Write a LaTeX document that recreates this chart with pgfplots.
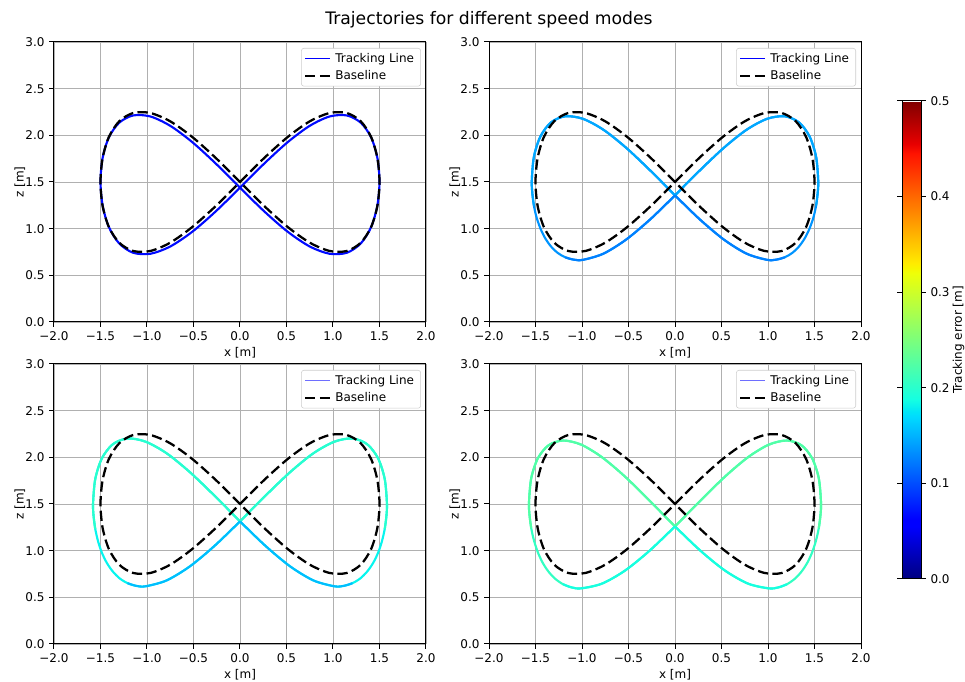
\documentclass[border=0pt]{standalone}
\usepackage{fontspec}
\setmainfont{DejaVu Sans}
\usepackage{pgfplots}
\pgfplotsset{compat=1.18}
\definecolor{gridgray}{HTML}{B0B0B0}
\definecolor{legframe}{HTML}{CCCCCC}
\definecolor{pOne}{RGB}{0,10,255}
\definecolor{pTwoA}{RGB}{0,168,255}
\definecolor{pTwoB}{RGB}{0,148,255}
\definecolor{pTwoC}{RGB}{0,128,255}
\definecolor{pThrA}{RGB}{41,255,206}
\definecolor{pThrB}{RGB}{8,245,238}
\definecolor{pThrC}{RGB}{0,189,255}
\definecolor{pFouA}{RGB}{82,255,165}
\definecolor{pFouB}{RGB}{50,255,195}
\definecolor{pFouC}{RGB}{22,255,225}
\definecolor{legblueL}{RGB}{110,110,255}
\newcommand{\fs}{\fontsize{9}{11}\selectfont}
\pgfplotsset{
 colormap={mpljet}{rgb(0pt)=(0,0,0.5); rgb(11pt)=(0,0,1); rgb(12.5pt)=(0,0,1); rgb(34pt)=(0,0.86,1); rgb(35pt)=(0,0.9,0.968); rgb(37.5pt)=(0.081,1,0.887); rgb(64pt)=(0.935,1,0.032); rgb(65pt)=(0.968,0.963,0); rgb(66pt)=(1,0.926,0); rgb(89pt)=(1,0.074,0); rgb(91pt)=(0.909,0,0); rgb(100pt)=(0.5,0,0)},
 traj/.style={
   scale only axis, width=279pt, height=210pt, anchor=south west,
   xmin=-2,xmax=2,ymin=0,ymax=3,
   xtick={-2,-1.5,-1,-0.5,0,0.5,1,1.5,2},
   xticklabels={−2.0,−1.5,−1.0,−0.5,0.0,0.5,1.0,1.5,2.0},
   ytick={0,0.5,1,1.5,2,2.5,3},
   yticklabels={0.0,0.5,1.0,1.5,2.0,2.5,3.0},
   grid=major, grid style={gridgray, line width=0.7pt},
   axis line style={black, line width=0.75pt},
   tick align=outside, major tick length=3.6pt, tick pos=left,
   tick style={black, line width=0.75pt},
   tick label style={font=\fs},
   label style={font=\fs},
   xlabel={x [m]}, ylabel={z [m]},
   xlabel shift=-1.5pt, ylabel shift=-6.75pt,
   legend cell align=left,
   legend style={at={(1,1)}, anchor=north east, xshift=-3.75pt, yshift=-4.5pt, draw=legframe, rounded corners=2pt, font=\fs, inner xsep=2pt, inner ysep=1.5pt, row sep=0pt, nodes={inner ysep=2.2pt, inner xsep=3pt}},
   legend image code/.code={\draw[##1] (0pt,0pt) -- (18.75pt,0pt);},
 },
 trk/.style={line width=1.6pt, smooth, forget plot},
 base/.style={black, line width=1.7pt, dash pattern=on 7.7pt off 3.3pt, smooth},
}
\begin{document}
\begin{tikzpicture}
\useasboundingbox (0,0) rectangle (723.75pt,511.5pt);
\node[font=\fontsize{12.9}{15}\selectfont, anchor=base] at (366.75pt,492.75pt) {Trajectories for different speed modes};

% ---------- Panel 1 ----------
\begin{axis}[traj, at={(40.5pt,270pt)}]
\addlegendimage{blue, line width=1.1pt}
\addlegendentry{Tracking Line}
\addplot[trk, pOne] coordinates {(0,1.439) (0.260,1.697) (0.513,1.927) (0.75,2.102) (0.964,2.202) (1.149,2.213) (1.299,2.135) (1.410,1.978) (1.477,1.759) (1.5,1.505) (1.477,1.248) (1.410,1.017) (1.299,0.842) (1.149,0.742) (0.964,0.731) (0.75,0.809) (0.513,0.967) (0.260,1.186) (0,1.439) (-0.260,1.697) (-0.513,1.927) (-0.75,2.102) (-0.964,2.202) (-1.149,2.213) (-1.299,2.135) (-1.410,1.978) (-1.477,1.759) (-1.5,1.505) (-1.477,1.248) (-1.410,1.017) (-1.299,0.842) (-1.149,0.742) (-0.964,0.731) (-0.75,0.809) (-0.513,0.967) (-0.260,1.186) (0,1.439)};
\addplot[base] coordinates {(0,1.5) (0.260,1.757) (0.513,1.982) (0.75,2.150) (0.964,2.239) (1.149,2.239) (1.299,2.150) (1.410,1.982) (1.477,1.757) (1.5,1.5) (1.477,1.243) (1.410,1.018) (1.299,0.850) (1.149,0.761) (0.964,0.761) (0.75,0.850) (0.513,1.018) (0.260,1.243) (0,1.5) (-0.260,1.757) (-0.513,1.982) (-0.75,2.150) (-0.964,2.239) (-1.149,2.239) (-1.299,2.150) (-1.410,1.982) (-1.477,1.757) (-1.5,1.5) (-1.477,1.243) (-1.410,1.018) (-1.299,0.850) (-1.149,0.761) (-0.964,0.761) (-0.75,0.850) (-0.513,1.018) (-0.260,1.243) (0,1.5)};
\addlegendentry{Baseline}
\end{axis}

% ---------- Panel 2 ----------
\begin{axis}[traj, at={(366.75pt,270pt)},
  colorbar, colormap name=mpljet, point meta min=0, point meta max=0.5,
  colorbar shift/.style={},
  colorbar style={at={(parent axis.north east)}, anchor=north west, xshift=30.75pt, yshift=-44.25pt,
     scale only axis, width=14.25pt, height=358.5pt,
     ytick={0,0.1,0.2,0.3,0.4,0.5}, yticklabels={0.0,0.1,0.2,0.3,0.4,0.5},
     ylabel={Tracking error [m]}, ylabel shift=-4.5pt,
     tick label style={font=\fs},
     label style={font=\fs},
     axis line style={black, line width=0.75pt},
     tick style={black, line width=0.75pt},
     tick align=outside, major tick length=3.6pt}]
\addlegendimage{blue, line width=1.1pt}
\addlegendentry{Tracking Line}
\addplot[trk, pTwoB] coordinates {(0,1.357) (0.267,1.624) (0.527,1.868) (0.77,2.060) (0.990,2.177) (1.180,2.204) (1.334,2.138) (1.447,1.988) (1.517,1.771) (1.54,1.513) (1.534,1.379) (1.517,1.246) (1.488,1.119) (1.447,1.002) (1.396,0.898) (1.334,0.810) (1.262,0.741) (1.180,0.693) (1.089,0.668) (0.990,0.666) (0.77,0.732) (0.527,0.882) (0.267,1.099) (0,1.357) (-0.267,1.624) (-0.527,1.868) (-0.77,2.060) (-0.990,2.177) (-1.180,2.204) (-1.334,2.138) (-1.447,1.988) (-1.517,1.771) (-1.54,1.513) (-1.534,1.379) (-1.517,1.246) (-1.488,1.119) (-1.447,1.002) (-1.396,0.898) (-1.334,0.810) (-1.262,0.741) (-1.180,0.693) (-1.089,0.668) (-0.990,0.666) (-0.77,0.732) (-0.527,0.882) (-0.267,1.099) (0,1.357)};
\addplot[trk, pTwoA] coordinates {(0,1.357) (0.267,1.624) (0.527,1.868) (0.77,2.060) (0.990,2.177) (1.180,2.204) (1.334,2.138) (1.447,1.988) (1.517,1.771) (1.54,1.513) (1.534,1.379) (1.517,1.246)};
\addplot[trk, pTwoC] coordinates {(1.180,0.693) (1.089,0.668) (0.990,0.666) (0.77,0.732) (0.527,0.882) (0.267,1.099) (0,1.357)};
\addplot[trk, pTwoA] coordinates {(0,1.357) (-0.267,1.624) (-0.527,1.868) (-0.77,2.060) (-0.990,2.177) (-1.180,2.204) (-1.334,2.138) (-1.447,1.988) (-1.517,1.771) (-1.54,1.513) (-1.534,1.379) (-1.517,1.246)};
\addplot[trk, pTwoC] coordinates {(-1.180,0.693) (-1.089,0.668) (-0.990,0.666) (-0.77,0.732) (-0.527,0.882) (-0.267,1.099) (0,1.357)};
\addplot[base] coordinates {(0,1.5) (0.260,1.757) (0.513,1.982) (0.75,2.150) (0.964,2.239) (1.149,2.239) (1.299,2.150) (1.410,1.982) (1.477,1.757) (1.5,1.5) (1.477,1.243) (1.410,1.018) (1.299,0.850) (1.149,0.761) (0.964,0.761) (0.75,0.850) (0.513,1.018) (0.260,1.243) (0,1.5) (-0.260,1.757) (-0.513,1.982) (-0.75,2.150) (-0.964,2.239) (-1.149,2.239) (-1.299,2.150) (-1.410,1.982) (-1.477,1.757) (-1.5,1.5) (-1.477,1.243) (-1.410,1.018) (-1.299,0.850) (-1.149,0.761) (-0.964,0.761) (-0.75,0.850) (-0.513,1.018) (-0.260,1.243) (0,1.5)};
\addlegendentry{Baseline}
\end{axis}

% ---------- Panel 3 ----------
\begin{axis}[traj, at={(40.5pt,28.5pt)}]
\addlegendimage{legblueL, line width=1.1pt}
\addlegendentry{Tracking Line}
\addplot[trk, pThrB] coordinates {(0,1.314) (0.274,1.589) (0.540,1.842) (0.79,2.044) (1.016,2.168) (1.210,2.202) (1.368,2.140) (1.485,1.989) (1.556,1.769) (1.58,1.506) (1.574,1.368) (1.556,1.231) (1.526,1.100) (1.485,0.978) (1.432,0.869) (1.368,0.777) (1.294,0.703) (1.210,0.652) (1.117,0.623) (1.016,0.618) (0.79,0.681) (0.540,0.831) (0.274,1.051) (0,1.314) (-0.274,1.589) (-0.540,1.842) (-0.79,2.044) (-1.016,2.168) (-1.210,2.202) (-1.368,2.140) (-1.485,1.989) (-1.556,1.769) (-1.58,1.506) (-1.574,1.368) (-1.556,1.231) (-1.526,1.100) (-1.485,0.978) (-1.432,0.869) (-1.368,0.777) (-1.294,0.703) (-1.210,0.652) (-1.117,0.623) (-1.016,0.618) (-0.79,0.681) (-0.540,0.831) (-0.274,1.051) (0,1.314)};
\addplot[trk, pThrA] coordinates {(0,1.314) (0.274,1.589) (0.540,1.842) (0.79,2.044) (1.016,2.168) (1.210,2.202) (1.368,2.140) (1.485,1.989) (1.556,1.769) (1.58,1.506) (1.574,1.368) (1.556,1.231)};
\addplot[trk, pThrC] coordinates {(1.210,0.652) (1.117,0.623) (1.016,0.618) (0.79,0.681) (0.540,0.831) (0.274,1.051) (0,1.314)};
\addplot[trk, pThrA] coordinates {(0,1.314) (-0.274,1.589) (-0.540,1.842) (-0.79,2.044) (-1.016,2.168) (-1.210,2.202) (-1.368,2.140) (-1.485,1.989) (-1.556,1.769) (-1.58,1.506) (-1.574,1.368) (-1.556,1.231)};
\addplot[trk, pThrC] coordinates {(-1.210,0.652) (-1.117,0.623) (-1.016,0.618) (-0.79,0.681) (-0.540,0.831) (-0.274,1.051) (0,1.314)};
\addplot[base] coordinates {(0,1.5) (0.260,1.757) (0.513,1.982) (0.75,2.150) (0.964,2.239) (1.149,2.239) (1.299,2.150) (1.410,1.982) (1.477,1.757) (1.5,1.5) (1.477,1.243) (1.410,1.018) (1.299,0.850) (1.149,0.761) (0.964,0.761) (0.75,0.850) (0.513,1.018) (0.260,1.243) (0,1.5) (-0.260,1.757) (-0.513,1.982) (-0.75,2.150) (-0.964,2.239) (-1.149,2.239) (-1.299,2.150) (-1.410,1.982) (-1.477,1.757) (-1.5,1.5) (-1.477,1.243) (-1.410,1.018) (-1.299,0.850) (-1.149,0.761) (-0.964,0.761) (-0.75,0.850) (-0.513,1.018) (-0.260,1.243) (0,1.5)};
\addlegendentry{Baseline}
\end{axis}

% ---------- Panel 4 ----------
\begin{axis}[traj, at={(366.75pt,28.5pt)}]
\addlegendimage{legblueL, line width=1.1pt}
\addlegendentry{Tracking Line}
\addplot[trk, pFouB] coordinates {(0,1.260) (0.273,1.535) (0.537,1.793) (0.785,2.001) (1.009,2.136) (1.203,2.180) (1.360,2.129) (1.475,1.989) (1.546,1.776) (1.57,1.516) (1.564,1.378) (1.546,1.241) (1.516,1.108) (1.475,0.983) (1.423,0.871) (1.360,0.775) (1.286,0.697) (1.203,0.640) (1.110,0.606) (1.009,0.596) (0.785,0.647) (0.537,0.787) (0.273,1.000) (0,1.260) (-0.273,1.535) (-0.537,1.793) (-0.785,2.001) (-1.009,2.136) (-1.203,2.180) (-1.360,2.129) (-1.475,1.989) (-1.546,1.776) (-1.57,1.516) (-1.564,1.378) (-1.546,1.241) (-1.516,1.108) (-1.475,0.983) (-1.423,0.871) (-1.360,0.775) (-1.286,0.697) (-1.203,0.640) (-1.110,0.606) (-1.009,0.596) (-0.785,0.647) (-0.537,0.787) (-0.273,1.000) (0,1.260)};
\addplot[trk, pFouA] coordinates {(0,1.260) (0.273,1.535) (0.537,1.793) (0.785,2.001) (1.009,2.136) (1.203,2.180) (1.360,2.129) (1.475,1.989) (1.546,1.776) (1.57,1.516) (1.564,1.378) (1.546,1.241)};
\addplot[trk, pFouC] coordinates {(1.203,0.640) (1.110,0.606) (1.009,0.596) (0.785,0.647) (0.537,0.787) (0.273,1.000) (0,1.260)};
\addplot[trk, pFouA] coordinates {(0,1.260) (-0.273,1.535) (-0.537,1.793) (-0.785,2.001) (-1.009,2.136) (-1.203,2.180) (-1.360,2.129) (-1.475,1.989) (-1.546,1.776) (-1.57,1.516) (-1.564,1.378) (-1.546,1.241)};
\addplot[trk, pFouC] coordinates {(-1.203,0.640) (-1.110,0.606) (-1.009,0.596) (-0.785,0.647) (-0.537,0.787) (-0.273,1.000) (0,1.260)};
\addplot[base] coordinates {(0,1.5) (0.260,1.757) (0.513,1.982) (0.75,2.150) (0.964,2.239) (1.149,2.239) (1.299,2.150) (1.410,1.982) (1.477,1.757) (1.5,1.5) (1.477,1.243) (1.410,1.018) (1.299,0.850) (1.149,0.761) (0.964,0.761) (0.75,0.850) (0.513,1.018) (0.260,1.243) (0,1.5) (-0.260,1.757) (-0.513,1.982) (-0.75,2.150) (-0.964,2.239) (-1.149,2.239) (-1.299,2.150) (-1.410,1.982) (-1.477,1.757) (-1.5,1.5) (-1.477,1.243) (-1.410,1.018) (-1.299,0.850) (-1.149,0.761) (-0.964,0.761) (-0.75,0.850) (-0.513,1.018) (-0.260,1.243) (0,1.5)};
\addlegendentry{Baseline}
\end{axis}
\end{tikzpicture}
\end{document}
